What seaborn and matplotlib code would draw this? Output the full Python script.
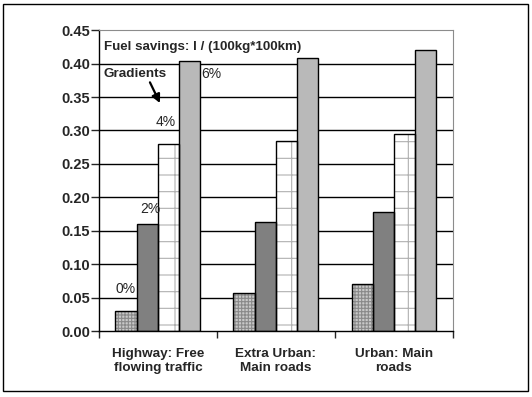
import pandas as pd
import matplotlib.pyplot as plt
import seaborn as sns
from matplotlib.patches import Rectangle, FancyArrowPatch

# data
routes = ['Highway: Free\nflowing traffic', 'Extra Urban:\nMain roads', 'Urban: Main\nroads']
gradients = ['0%', '2%', '4%', '6%']
savings_0 = [0.030, 0.057, 0.070]
savings_2 = [0.160, 0.163, 0.178]
savings_4 = [0.280, 0.284, 0.295]
savings_6 = [0.404, 0.408, 0.421]

rows = []
for g, vals in zip(gradients, [savings_0, savings_2, savings_4, savings_6]):
    for r, v in zip(routes, vals):
        rows.append({'Route': r, 'Gradient': g, 'Savings': v})
df = pd.DataFrame(rows)

sns.set_style('white')
plt.rcParams['font.family'] = ['Liberation Sans', 'DejaVu Sans']
plt.rcParams['hatch.linewidth'] = 0.8

fig = plt.figure(figsize=(5.32, 3.97), dpi=100)
ax = fig.add_axes([0.186, 0.166, 0.6655, 0.758])

kolory = {'0%': '#c9c9c9', '2%': '#808080', '4%': '#ffffff', '6%': '#b9b9b9'}
ax = sns.barplot(data=df, x='Route', y='Savings', hue='Gradient', order=routes,
                 hue_order=gradients, palette=kolory, width=0.72, saturation=1,
                 legend=False, ax=ax, zorder=2)

# wzory kreskowania + czarna obwódka na wierzchu
hatche = {'0%': '+++++', '2%': None, '4%': '+', '6%': None}
kolor_hatch = {'0%': '#8a8a8a', '4%': '#b0b0b0'}
for g, cont in zip(gradients, ax.containers):
    for p in cont:
        if hatche[g]:
            p.set_hatch(hatche[g])
            p.set_edgecolor(kolor_hatch[g])
            p.set_linewidth(0)
        else:
            p.set_edgecolor('none')
        b = p.get_bbox()
        ax.add_patch(Rectangle((b.x0, b.y0), b.width, b.height, fill=False,
                               edgecolor='black', linewidth=1.0, zorder=3))

ax.set_ylim(0, 0.45)
ax.set_xlim(-0.5, 2.5)
ax.set_yticks([i * 0.05 for i in range(10)])
ax.set_yticklabels([f'{i * 0.05:.2f}' for i in range(10)], fontsize=10.5, fontweight='bold')
for i in range(1, 9):
    ax.axhline(i * 0.05, color='black', linewidth=1.0, zorder=1)

ax.set_xticks([-0.5, 0.5, 1.5, 2.5])
ax.set_xticklabels([])
ax.set_xticks([0, 1, 2], minor=True)
ax.set_xticklabels(routes, minor=True, fontsize=9.7, fontweight='bold', linespacing=1.3)
ax.tick_params(axis='x', which='minor', length=0, pad=12)
ax.tick_params(axis='x', which='major', length=5, width=1, direction='out', bottom=True)
ax.tick_params(axis='y', length=5.5, width=1, direction='out', left=True, pad=1)
ax.set_xlabel('')
ax.set_ylabel('')

for s in ['left', 'bottom']:
    ax.spines[s].set_color('black')
    ax.spines[s].set_linewidth(1.0)
for s in ['top', 'right']:
    ax.spines[s].set_color('#8c8c8c')
    ax.spines[s].set_linewidth(0.8)

# opisy
ax.text(-0.46, 0.425, 'Fuel savings: l / (100kg*100km)', fontsize=9.6, fontweight='bold', va='center')
ax.text(-0.46, 0.385, 'Gradients', fontsize=9.7, fontweight='bold', va='center')
ax.add_patch(FancyArrowPatch((-0.068, 0.372), (0.017, 0.341),
                             arrowstyle='-|>,head_length=5,head_width=2.5',
                             shrinkA=0, shrinkB=0, color='black', linewidth=1.6, zorder=4))
ax.text(0.365, 0.385, '6%', fontsize=10, va='center')
ax.text(-0.02, 0.313, '4%', fontsize=10, va='center')
ax.text(-0.15, 0.182, '2%', fontsize=10, va='center')
ax.text(-0.36, 0.063, '0%', fontsize=10, va='center')

fig.add_artist(Rectangle((0.006, 0.015), 0.987, 0.975, transform=fig.transFigure,
                         fill=False, edgecolor='black', linewidth=1.0))

fig.savefig('out.png', dpi=100)
